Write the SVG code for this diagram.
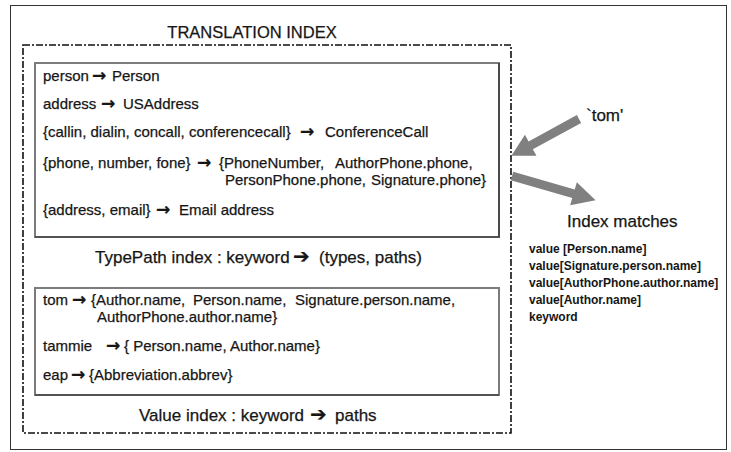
<svg xmlns="http://www.w3.org/2000/svg" width="731" height="452" viewBox="0 0 731 452">
  <style>
    .t { font-family: "Liberation Sans", Arial, sans-serif; font-size: 15px; fill: #161616; stroke: #161616; stroke-width: 0.25; }
    .cap { font-family: "Liberation Sans", Arial, sans-serif; font-size: 17px; fill: #161616; stroke: #161616; stroke-width: 0.25; }
    .title { font-family: "Liberation Sans", Arial, sans-serif; font-size: 16.5px; fill: #161616; stroke: #161616; stroke-width: 0.25; }
    .m { font-family: "Liberation Sans", Arial, sans-serif; font-size: 12px; font-weight: bold; fill: #161616; }
    .ar { font-family: "DejaVu Sans", sans-serif; font-weight: bold; font-size: 17px; }
    .arc { font-family: "DejaVu Sans", sans-serif; font-size: 20px; }
    .box { fill: #ffffff; stroke: #7c7c7c; stroke-width: 2; }
    .boxedge { fill: none; stroke: #2a2a2a; stroke-width: 1.2; }
    .frame { fill: none; stroke: #111111; stroke-width: 1.6; stroke-dasharray: 7 2 2 2; }
    .flow { fill: #808080; }
  </style>

  <!-- page border -->
  <rect x="10.5" y="5.5" width="716" height="444" fill="#ffffff" stroke="#333333" stroke-width="1"/>

  <!-- container: translation index -->
  <g id="translation-index">
    <text class="title" x="252" y="38" text-anchor="middle">TRANSLATION INDEX</text>
    <rect class="frame" x="23" y="45" width="488" height="388"/>
  </g>

  <!-- type/path index -->
  <g id="typepath-index">
    <rect class="box" x="35" y="63" width="464" height="174"/>
    <path class="boxedge" d="M35,237 H499 V63"/>
    <text class="t" y="81"><tspan x="43">person</tspan><tspan class="ar" x="92">→</tspan><tspan x="112">Person</tspan></text>
    <text class="t" y="109"><tspan x="43">address</tspan><tspan class="ar" x="101">→</tspan><tspan x="123">USAddress</tspan></text>
    <text class="t" y="137"><tspan x="43">{callin, dialin, concall, conferencecall}</tspan><tspan class="ar" x="300">→</tspan><tspan x="325">ConferenceCall</tspan></text>
    <text class="t" y="168"><tspan x="43">{phone, number, fone}</tspan><tspan class="ar" x="197">→</tspan><tspan x="219">{PhoneNumber,</tspan><tspan x="335">AuthorPhone.phone,</tspan></text>
    <text class="t" y="185"><tspan x="225">PersonPhone.phone,</tspan><tspan x="371">Signature.phone}</tspan></text>
    <text class="t" y="215"><tspan x="43">{address, email}</tspan><tspan class="ar" x="156">→</tspan><tspan x="179">Email address</tspan></text>
    <text class="cap" y="263"><tspan x="95">TypePath index : keyword</tspan><tspan class="arc" x="293">➔</tspan><tspan x="319">(types, paths)</tspan></text>
  </g>

  <!-- value index -->
  <g id="value-index">
    <rect class="box" x="35" y="288" width="464" height="107"/>
    <path class="boxedge" d="M35,395 H499"/>
    <text class="t" y="305"><tspan x="43">tom</tspan><tspan class="ar" x="72">→</tspan><tspan x="91">{Author.name,</tspan><tspan x="193">Person.name,</tspan><tspan x="295">Signature.person.name,</tspan></text>
    <text class="t" y="322"><tspan x="97">AuthorPhone.author.name}</tspan></text>
    <text class="t" y="351"><tspan x="43">tammie</tspan><tspan class="ar" x="106">→</tspan><tspan x="124">{ Person.name, Author.name}</tspan></text>
    <text class="t" y="380"><tspan x="43">eap</tspan><tspan class="ar" x="71">→</tspan><tspan x="89">{Abbreviation.abbrev}</tspan></text>
    <text class="cap" y="421"><tspan x="139">Value index : keyword</tspan><tspan class="arc" x="310">➔</tspan><tspan x="335">paths</tspan></text>
  </g>

  <!-- query keyword -->
  <g id="query">
    <text class="cap" x="586" y="121">`tom'</text>
  </g>

  <!-- result list -->
  <g id="index-matches">
    <text class="cap" x="567" y="227">Index matches</text>
    <text class="m" x="529" y="253">value [Person.name]</text>
    <text class="m" x="529" y="270">value[Signature.person.name]</text>
    <text class="m" x="529" y="287">value[AuthorPhone.author.name]</text>
    <text class="m" x="529" y="304">value[Author.name]</text>
    <text class="m" x="529" y="321">keyword</text>
  </g>

  <!-- wide block arrows: query in, matches out -->
  <g id="connectors">
    <path class="flow" transform="translate(579,119) rotate(151.4)" d="M0,-4.5 L55,-4.5 L55,-12 L77,0 L55,12 L55,4.5 L0,4.5 Z"/>
    <path class="flow" transform="translate(512,176) rotate(16.1)" d="M0,-4.5 L64,-4.5 L64,-12 L87,0 L64,12 L64,4.5 L0,4.5 Z"/>
  </g>
</svg>
